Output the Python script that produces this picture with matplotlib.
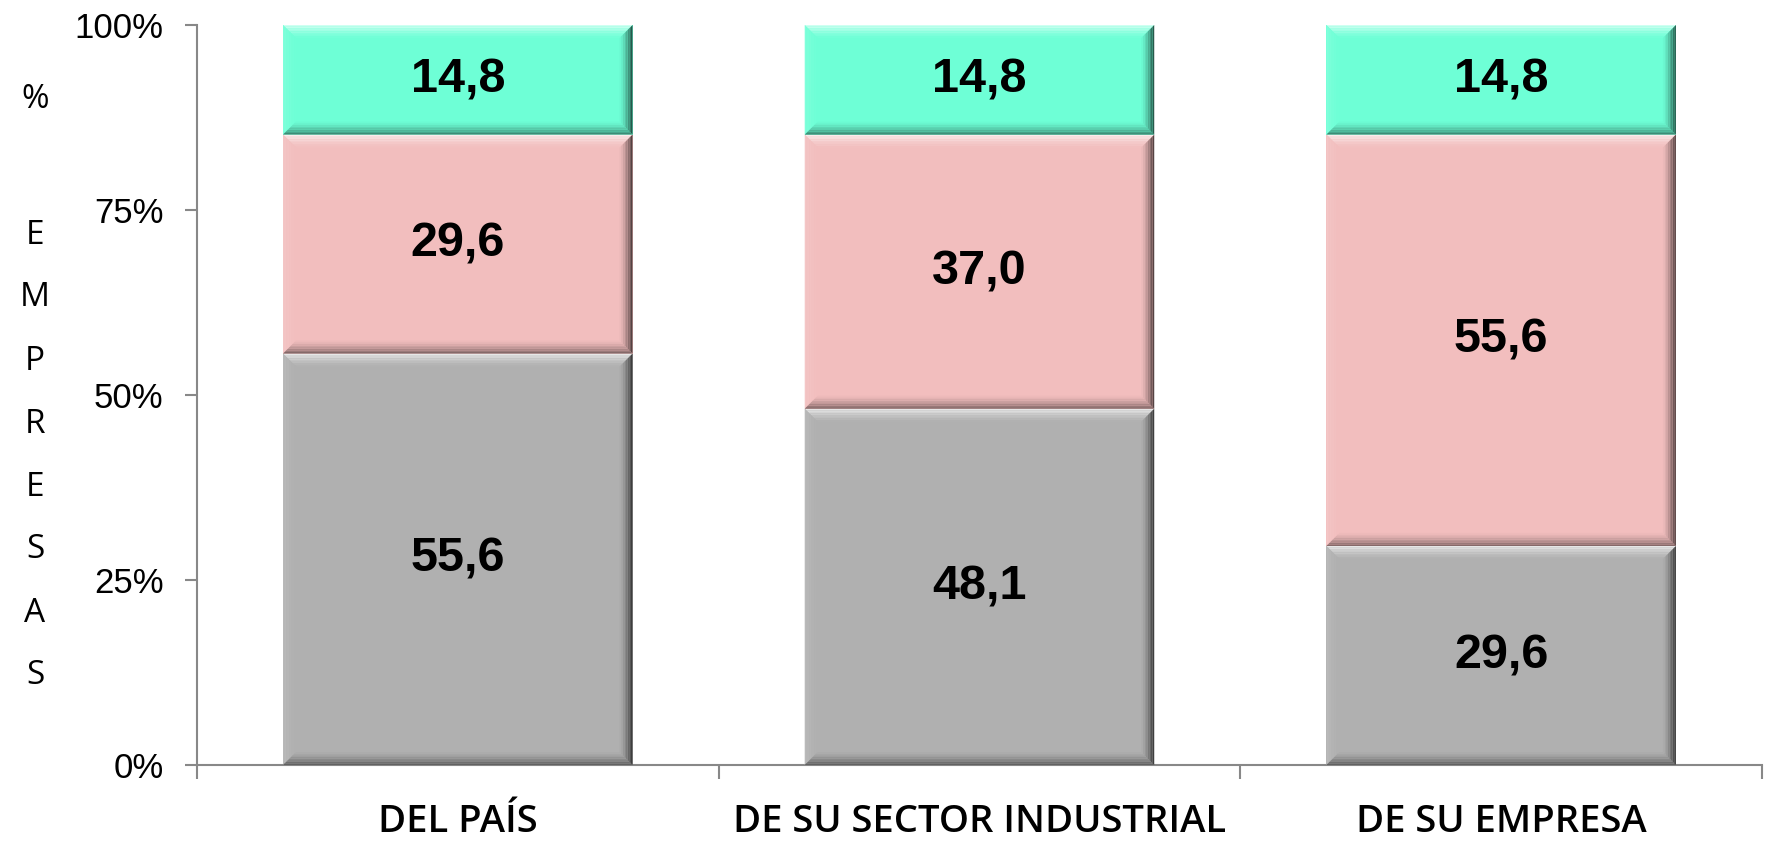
import numpy as np
import matplotlib
matplotlib.use("Agg")
import matplotlib.pyplot as plt
from matplotlib.patches import Polygon
from matplotlib.colors import to_rgb

categories = ["DEL PAÍS", "DE SU SECTOR INDUSTRIAL", "DE SU EMPRESA"]
gray_vals = [55.6, 48.1, 29.6]
pink_vals = [29.6, 37.0, 55.6]
green_vals = [14.8, 14.8, 14.8]
series_colors = ["#b0b0b0", "#f2bebe", "#6effd6"]
y_ticks = [0, 25, 50, 75, 100]
y_letters = ["%"] + list("EMPRESAS")

def mix(c, other, t):
    c, o = np.array(to_rgb(c)), np.array(to_rgb(other))
    return tuple(c * (1 - t) + o * t)

def add_bevel(ax, rect, color, bx, by, n=8):
    # fake the excel "bevel" look with shaded strips along each edge
    x0, y0 = rect.get_x(), rect.get_y()
    x1, y1 = x0 + rect.get_width(), y0 + rect.get_height()
    sides = [("top", "white", 0.7), ("left", "white", 0.12),
             ("bottom", "black", 0.45), ("right", "black", 0.65)]
    for side, target, amt in sides:
        for k in range(n):
            a, b = k / n, (k + 1) / n
            ax0, ay0, ax1, ay1 = a * bx, a * by, b * bx, b * by
            if side == "top":
                pts = [(x0 + ax0, y1 - ay0), (x1 - ax0, y1 - ay0), (x1 - ax1, y1 - ay1), (x0 + ax1, y1 - ay1)]
            elif side == "bottom":
                pts = [(x0 + ax0, y0 + ay0), (x1 - ax0, y0 + ay0), (x1 - ax1, y0 + ay1), (x0 + ax1, y0 + ay1)]
            elif side == "left":
                pts = [(x0 + ax0, y0 + ay0), (x0 + ax0, y1 - ay0), (x0 + ax1, y1 - ay1), (x0 + ax1, y0 + ay1)]
            else:
                pts = [(x1 - ax0, y0 + ay0), (x1 - ax0, y1 - ay0), (x1 - ax1, y1 - ay1), (x1 - ax1, y0 + ay1)]
            fc = mix(color, target, amt * (1 - k / n) ** 1.5)
            ax.add_patch(Polygon(pts, closed=True, facecolor=fc, edgecolor="none", zorder=3))

fig = plt.figure(figsize=(17.68, 8.43), dpi=100)
ax = fig.add_axes([0.1114, 0.0925, 0.8852, 0.8778])

series = np.array([gray_vals, pink_vals, green_vals])
pct = series / series.sum(axis=0) * 100
x = np.arange(len(categories))
bottom = np.zeros(len(categories))
bar_w = 0.67

ax.set_xlim(-0.5, len(categories) - 0.5)
ax.set_ylim(0, 100)
bx = 13 / 1565 * len(categories)
by = 13 / 740 * 100

for vals, raw, color in zip(pct, series, series_colors):
    bars = ax.bar(x, vals, bar_w, bottom=bottom, color=color, edgecolor="none", zorder=2)
    for rect, v in zip(bars, raw):
        add_bevel(ax, rect, color, bx, by)
        ax.text(rect.get_x() + rect.get_width() / 2, rect.get_y() + rect.get_height() / 2,
                f"{v:.1f}".replace(".", ","), ha="center", va="center",
                fontsize=35, fontweight="bold", family="Liberation Sans", zorder=5)
    bottom += vals

for s in ["top", "right"]:
    ax.spines[s].set_visible(False)
for s in ["left", "bottom"]:
    ax.spines[s].set_color("#888888")
    ax.spines[s].set_linewidth(1.5)

ax.set_yticks(y_ticks)
ax.set_yticklabels([f"{t}%" for t in y_ticks], fontsize=25, family="Liberation Sans")
ax.tick_params(axis="y", length=9, width=1.5, color="#888888", pad=15)

ax.set_xticks(x)
ax.set_xticklabels(categories, fontsize=27.5, family="Open Sans", fontweight="semibold")
ax.set_xticks(np.arange(len(categories) + 1) - 0.5, minor=True)
ax.tick_params(axis="x", which="major", length=0, pad=27)
ax.tick_params(axis="x", which="minor", length=10, width=1.5, color="#888888")

# vertical stacked y label, one letter per line
y_pos = [99] + [235 + 63 * i for i in range(len(y_letters) - 1)]
for ch, yp in zip(y_letters, y_pos):
    fig.text(35 / 1768, 1 - yp / 843, ch, ha="center", va="center",
             fontsize=24, family="Open Sans")

fig.savefig("out.png", dpi=100)
